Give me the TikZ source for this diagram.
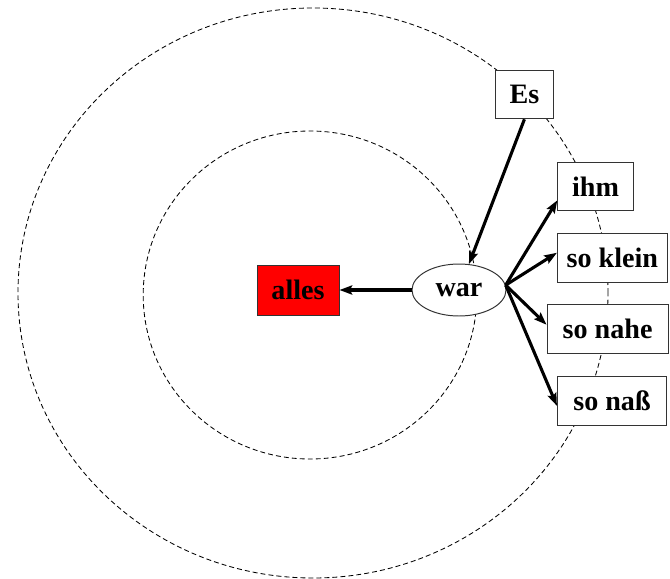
\documentclass[tikz,border=0pt]{standalone}
\usepackage{fontspec}
\setmainfont{Liberation Serif}
\usetikzlibrary{arrows.meta,shapes.geometric}

\begin{document}
\begin{tikzpicture}[
  font=\fontsize{20}{24}\selectfont\bfseries,
  wd/.style={draw=black!80, line width=0.7pt, fill=white, rectangle, minimum height=1.22cm, inner sep=2pt},
  hub/.style={draw=black!80, line width=0.7pt, fill=white, ellipse, minimum width=2.35cm, minimum height=1.3cm, inner sep=0pt},
  ring/.style={line width=0.6pt, dash pattern=on 3.5pt off 2.2pt},
  link/.style={-{Stealth[length=9pt,width=6.5pt,inset=1.5pt]}, line width=2.2pt}]
\useasboundingbox (0,0) rectangle (16.75,14.45);
\draw[ring] (7.825,7.125) ellipse [x radius=7.375, y radius=7.125];
\draw[ring] (7.75,7.075) ellipse [x radius=4.17, y radius=4.1];
\node[wd, fill=red, minimum width=2.05cm, minimum height=1.25cm] (alles) at (7.45,7.2) {alles};
\node[hub] (war) at (11.475,7.2) {war};
\node[wd, minimum width=1.43cm] (es) at (13.11,12.09) {Es};
\node[wd, minimum width=1.89cm] (ihm) at (14.89,9.79) {ihm};
\node[wd, minimum width=2.75cm] (klein) at (15.31,8.01) {so klein};
\node[wd, minimum width=3.03cm] (nahe) at (15.19,6.225) {so nahe};
\node[wd, minimum width=2.73cm] (nass) at (15.3,4.425) {so naß};
\draw[link] (es.south) -- (war);
\draw[link] (war.west) -- (alles.east);
\draw[link] (war.6) -- (ihm.200);
\draw[link] (war.6) -- (klein.175);
\draw[link] (war.6) -- (nahe.176);
\draw[link] (war.6) -- (nass.185);
\end{tikzpicture}
\end{document}
